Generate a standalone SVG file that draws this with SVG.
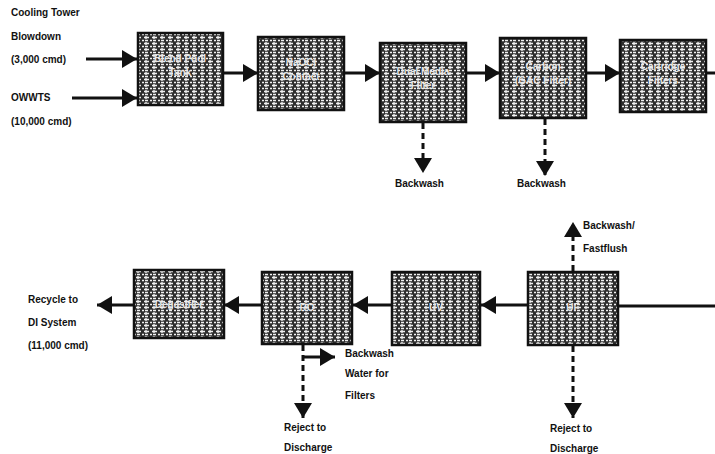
<svg xmlns="http://www.w3.org/2000/svg" width="715" height="454" viewBox="0 0 715 454">
<style>
.lbl{font-family:"Liberation Sans",Arial,sans-serif;font-weight:bold;font-size:10px;fill:#111}
.box{fill:url(#tex);stroke:#111;stroke-width:2.5}
.in{font-family:"Liberation Sans",Arial,sans-serif;font-weight:bold;font-size:10px;fill:#e6e6e6;text-anchor:middle}
.ln{stroke:#111;stroke-width:3;fill:none}
.dash{stroke:#111;stroke-width:3;fill:none;stroke-dasharray:6 4}
</style>
<defs>
<pattern id="tex" width="8" height="6" patternUnits="userSpaceOnUse">
<rect width="8" height="6" fill="#2e2e2e"/>
<path d="M0,1.5H5M6,4.5H8M1,4.5H4M2,0V3" stroke="#f0f0f0" stroke-width="1.3"/>
</pattern>
<marker id="ah" markerUnits="userSpaceOnUse" markerWidth="17" markerHeight="20" refX="15" refY="9" orient="auto">
<path d="M0,0L15,9L0,18z" fill="#111"/>
</marker>
</defs>
<g id="input-labels">
<text class="lbl" x="11" y="16">Cooling Tower</text>
<text class="lbl" x="11" y="40">Blowdown</text>
<text class="lbl" x="11" y="63">(3,000 cmd)</text>
<text class="lbl" x="11" y="101">OWWTS</text>
<text class="lbl" x="11" y="125">(10,000 cmd)</text>
</g>
<g id="n1"><rect class="box" x="138" y="33" width="85" height="72"/><text class="in" x="180" y="62">Blend Pool</text><text class="in" x="180" y="76">Tank</text></g>
<g id="n2"><rect class="box" x="258" y="37" width="86" height="73"/><text class="in" x="301" y="66">NaOCl</text><text class="in" x="301" y="80">Contact</text></g>
<g id="n3"><rect class="box" x="380" y="43" width="86" height="79"/><text class="in" x="423" y="75">Dual Media</text><text class="in" x="423" y="89">Filter</text></g>
<g id="n4"><rect class="box" x="500" y="38" width="86" height="80"/><text class="in" x="543" y="70">Carbon</text><text class="in" x="543" y="84">(GAC Filter)</text></g>
<g id="n5"><rect class="box" x="620" y="40" width="86" height="72"/><text class="in" x="663" y="70">Cartridge</text><text class="in" x="663" y="84">Filters</text></g>
<g id="n6"><rect class="box" x="134" y="270" width="90" height="68"/><text class="in" x="179" y="308">Degasifier</text></g>
<g id="n7"><rect class="box" x="262" y="272" width="90" height="72"/><text class="in" x="307" y="311">RO</text></g>
<g id="n8"><rect class="box" x="392" y="272" width="88" height="73"/><text class="in" x="436" y="311">UV</text></g>
<g id="n9"><rect class="box" x="528" y="272" width="90" height="73"/><text class="in" x="573" y="311">UF</text></g>
<g id="connectors">
<line class="ln" x1="86" y1="59" x2="137" y2="59" marker-end="url(#ah)"/>
<line class="ln" x1="72" y1="98" x2="137" y2="98" marker-end="url(#ah)"/>
<line class="ln" x1="223" y1="73" x2="258" y2="73" marker-end="url(#ah)"/>
<line class="ln" x1="344" y1="73" x2="380" y2="73" marker-end="url(#ah)"/>
<line class="ln" x1="466" y1="73" x2="500" y2="73" marker-end="url(#ah)"/>
<line class="ln" x1="586" y1="73" x2="620" y2="73" marker-end="url(#ah)"/>
<line class="ln" x1="706" y1="73" x2="715" y2="73"/>
<line class="dash" x1="423" y1="123" x2="423" y2="173" marker-end="url(#ah)"/>
<line class="dash" x1="545" y1="119" x2="545" y2="176" marker-end="url(#ah)"/>
<line class="ln" x1="134" y1="305" x2="97" y2="305" marker-end="url(#ah)"/>
<line class="ln" x1="262" y1="305" x2="224" y2="305" marker-end="url(#ah)"/>
<line class="ln" x1="392" y1="305" x2="353" y2="305" marker-end="url(#ah)"/>
<line class="ln" x1="528" y1="305" x2="481" y2="305" marker-end="url(#ah)"/>
<line class="ln" x1="715" y1="306" x2="618" y2="306"/>
<line class="dash" x1="573" y1="271" x2="573" y2="222" marker-end="url(#ah)"/>
<line class="dash" x1="573" y1="346" x2="573" y2="418" marker-end="url(#ah)"/>
<line class="dash" x1="303" y1="345" x2="303" y2="418" marker-end="url(#ah)"/>
<line class="ln" x1="303" y1="357" x2="335" y2="357" marker-end="url(#ah)"/>
</g>
<g id="edge-labels">
<text class="lbl" x="395" y="187">Backwash</text>
<text class="lbl" x="517" y="187">Backwash</text>
<text class="lbl" x="583" y="229">Backwash/</text>
<text class="lbl" x="583" y="252">Fastflush</text>
<text class="lbl" x="345" y="357">Backwash</text>
<text class="lbl" x="345" y="377">Water for</text>
<text class="lbl" x="345" y="399">Filters</text>
<text class="lbl" x="284" y="431">Reject to</text>
<text class="lbl" x="284" y="451">Discharge</text>
<text class="lbl" x="550" y="432">Reject to</text>
<text class="lbl" x="550" y="452">Discharge</text>
<text class="lbl" x="28" y="303">Recycle to</text>
<text class="lbl" x="28" y="326">DI System</text>
<text class="lbl" x="28" y="349">(11,000 cmd)</text>
</g>
</svg>
